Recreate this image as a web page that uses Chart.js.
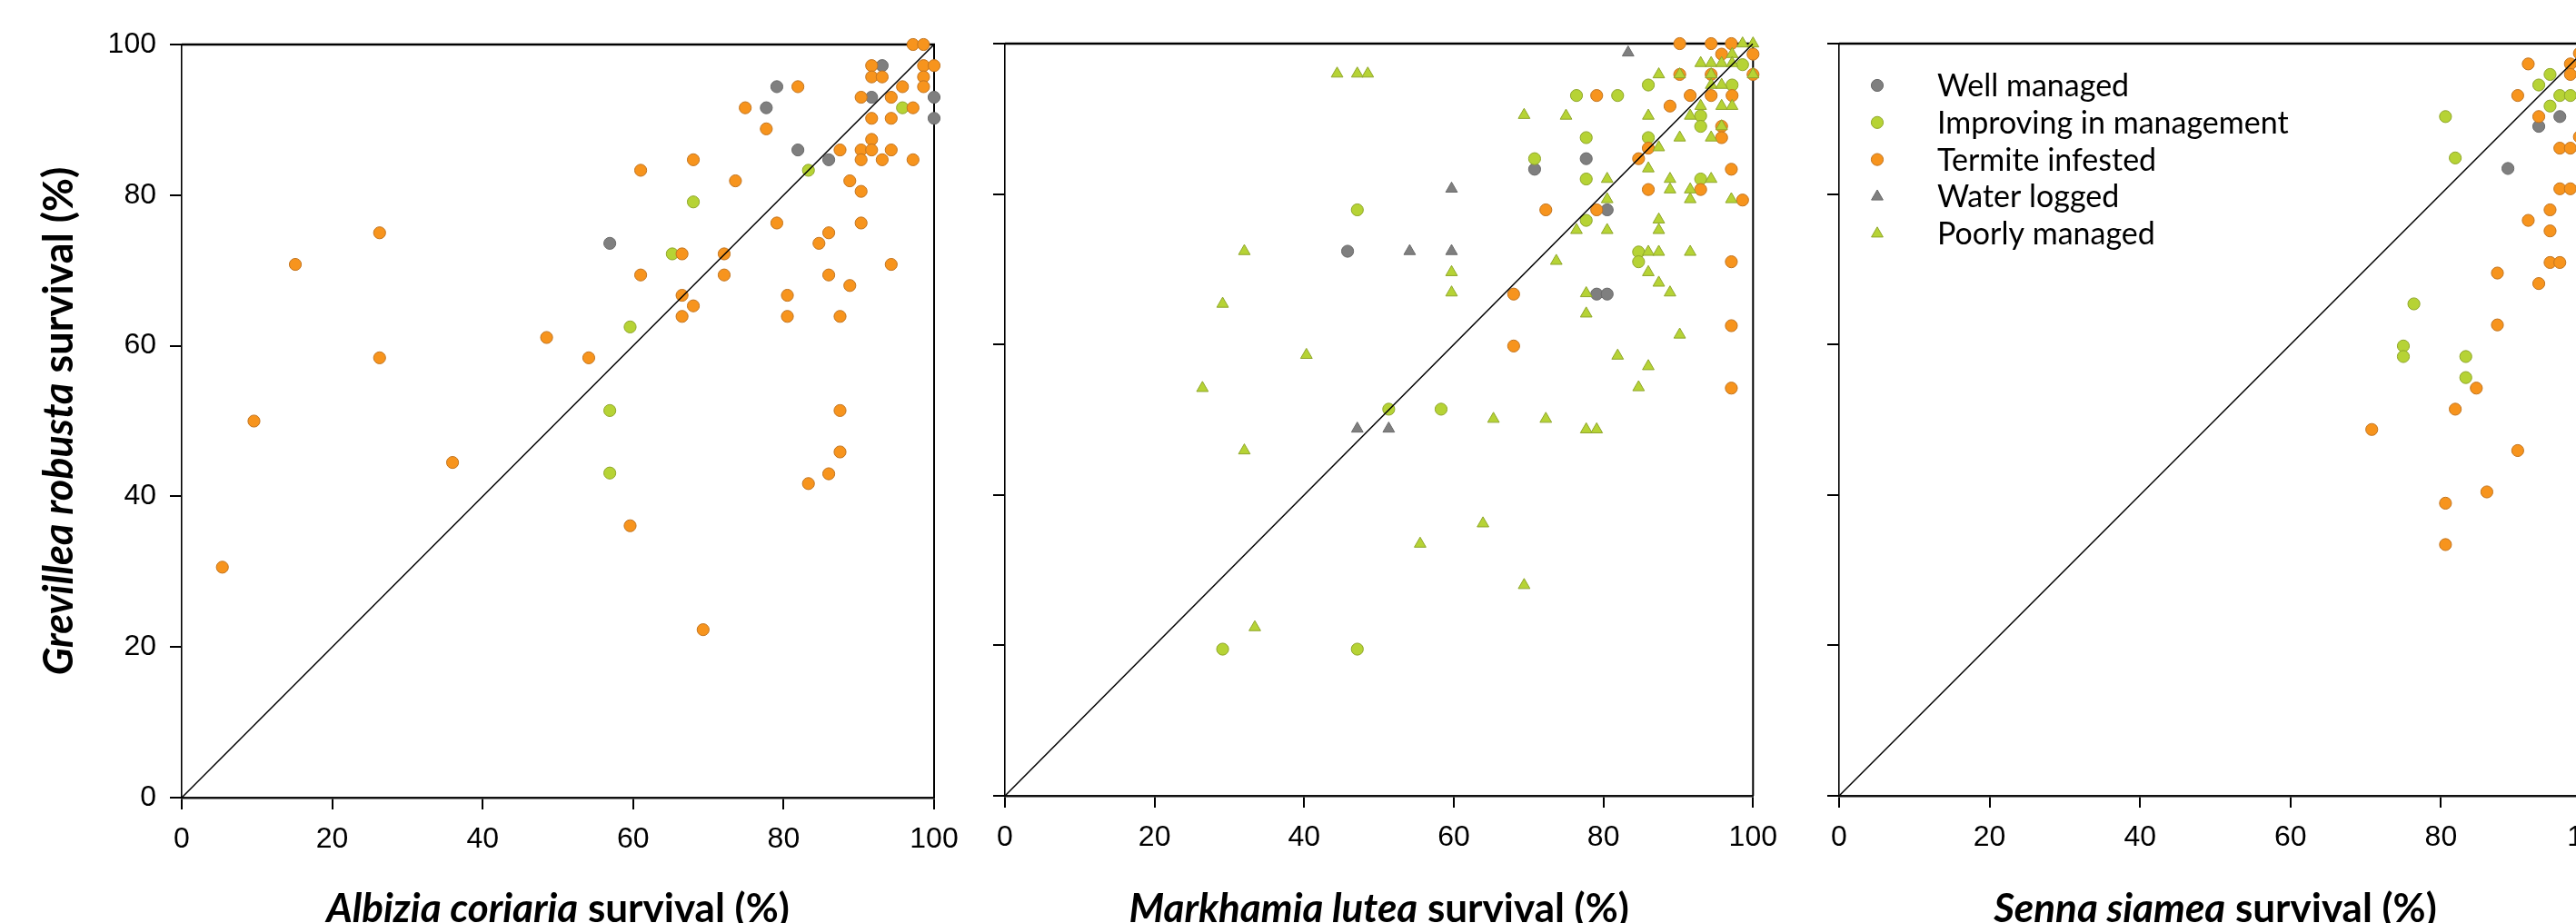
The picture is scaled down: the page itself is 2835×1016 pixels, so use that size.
<!DOCTYPE html>
<html>
<head>
<meta charset="utf-8">
<script src="https://cdn.jsdelivr.net/npm/chart.js@4.4.1/dist/chart.umd.min.js"></script>
<style>
  html, body { margin: 0; padding: 0; background: #fff; overflow: hidden; }
  body { width: 2835px; height: 1016px; position: relative; }
  .panel { position: absolute; top: 0; }
</style>
</head>
<body>
<div class="panel" style="left:0"><canvas id="albizia" width="1070" height="1016"></canvas></div>
<div class="panel" style="left:1070px"><canvas id="markhamia" width="900" height="1016"></canvas></div>
<div class="panel" style="left:1970px"><canvas id="senna" width="930" height="1016"></canvas></div>
<script>
const categories = ['Well managed', 'Improving in management', 'Termite infested', 'Water logged', 'Poorly managed'];
const axisTicks = [0, 20, 40, 60, 80, 100];
const yTitleSpecies = 'Grevillea robusta';
const xTitleSpecies = ['Albizia coriaria', 'Markhamia lutea', 'Senna siamea'];

// Albizia coriaria (x) vs Grevillea robusta (y), survival %
const albiziaWell = [[93.1, 97.2], [79.1, 94.4], [91.7, 93.0], [100, 93.0], [77.7, 91.6], [100, 90.2],
  [81.9, 86.0], [86.0, 84.7], [56.9, 73.6]];
const albiziaImproving = [[95.8, 91.6], [83.3, 83.3], [68.0, 79.1], [65.2, 72.2], [59.6, 62.5], [56.9, 51.4], [56.9, 43.1]];
const albiziaTermite = [[97.2, 100], [98.6, 100], [91.7, 97.2], [98.6, 97.2], [100, 97.2], [91.7, 95.7], [93.1, 95.7],
  [98.6, 95.7], [81.9, 94.4], [95.8, 94.4], [98.6, 94.4], [90.3, 93.0], [94.3, 93.0], [74.9, 91.6], [97.2, 91.6],
  [91.7, 90.2], [94.3, 90.2], [77.7, 88.8], [91.7, 87.4], [87.5, 86.0], [90.3, 86.0], [91.7, 86.0], [94.3, 86.0],
  [68.0, 84.7], [90.3, 84.7], [93.1, 84.7], [97.2, 84.7], [61.0, 83.3], [73.6, 81.9], [88.8, 81.9], [90.3, 80.5],
  [79.1, 76.3], [90.3, 76.3], [26.3, 75.0], [86.0, 75.0], [84.7, 73.6], [66.5, 72.2], [72.1, 72.2], [15.1, 70.8],
  [94.3, 70.8], [61.0, 69.4], [72.1, 69.4], [86.0, 69.4], [88.8, 68.0], [66.5, 66.7], [80.5, 66.7], [68.0, 65.3],
  [66.5, 63.9], [80.5, 63.9], [87.5, 63.9], [48.5, 61.1], [26.3, 58.4], [54.1, 58.4], [87.5, 51.4], [9.6, 50.0],
  [87.5, 45.9], [36.0, 44.5], [86.0, 43.0], [83.3, 41.7], [59.6, 36.1], [5.4, 30.6], [69.3, 22.3]];
const albiziaWaterlogged = [];
const albiziaPoor = [];

// Markhamia lutea (x) vs Grevillea robusta (y)
const markhamiaWell = [[45.8, 72.4], [70.8, 83.3], [77.7, 84.7], [80.5, 77.9], [79.1, 66.7], [80.5, 66.7]];
const markhamiaImproving = [[98.6, 97.2], [86.0, 94.5], [97.2, 94.5], [76.4, 93.1], [81.9, 93.1], [93.0, 90.4],
  [93.0, 89.0], [77.7, 87.5], [86.0, 87.5], [70.8, 84.7], [77.7, 82.0], [93.0, 82.0], [47.1, 77.9], [77.7, 76.5],
  [84.7, 72.3], [84.7, 71.0], [51.3, 51.4], [58.3, 51.4], [29.1, 19.5], [47.1, 19.5]];
const markhamiaTermite = [[90.2, 100], [94.4, 100], [97.1, 100], [95.8, 98.6], [100, 98.6], [90.2, 95.9], [94.4, 95.9],
  [100, 95.9], [79.1, 93.1], [91.6, 93.1], [94.4, 93.1], [97.2, 93.1], [88.9, 91.7], [95.8, 89.0], [95.8, 87.5],
  [86.0, 86.1], [84.7, 84.7], [97.1, 83.3], [86.0, 80.6], [93.0, 80.6], [98.6, 79.2], [72.3, 77.9], [79.1, 77.9],
  [97.1, 71.0], [68.0, 66.7], [97.1, 62.5], [68.0, 59.8], [97.1, 54.2]];
const markhamiaWaterlogged = [[83.3, 98.8], [59.7, 80.7], [54.1, 72.4], [59.7, 72.4], [47.1, 48.8], [51.3, 48.8]];
const markhamiaPoor = [[98.6, 100], [100, 100], [97.2, 98.6], [93.0, 97.4], [94.4, 97.4], [95.8, 97.4], [97.2, 97.4],
  [44.4, 96.0], [47.1, 96.0], [48.5, 96.0], [87.4, 95.9], [90.2, 95.9], [94.4, 95.9], [100, 95.9], [94.4, 94.5],
  [95.8, 94.5], [93.0, 91.7], [95.8, 91.7], [97.2, 91.7], [69.4, 90.5], [75.0, 90.4], [86.0, 90.4], [91.6, 90.4],
  [95.8, 89.0], [90.2, 87.5], [94.4, 87.5], [87.4, 86.2], [86.0, 83.4], [80.5, 82.0], [88.9, 82.0], [94.4, 82.0],
  [88.9, 80.6], [91.6, 80.6], [80.5, 79.3], [91.6, 79.3], [97.1, 79.3], [87.4, 76.6], [76.4, 75.2], [80.5, 75.2],
  [87.4, 75.2], [32.0, 72.4], [86.0, 72.3], [87.4, 72.3], [91.6, 72.3], [73.7, 71.1], [86.0, 69.6], [59.7, 69.6],
  [87.4, 68.2], [59.7, 66.9], [77.7, 66.8], [88.9, 66.9], [29.1, 65.4], [77.7, 64.1], [90.2, 61.3], [40.3, 58.6],
  [81.9, 58.5], [86.0, 57.1], [26.4, 54.2], [84.7, 54.3], [65.3, 50.1], [72.3, 50.1], [77.7, 48.7], [79.1, 48.7],
  [32.0, 45.9], [63.9, 36.2], [55.5, 33.5], [69.4, 28.0], [33.4, 22.4]];

// Senna siamea (x) vs Grevillea robusta (y)
const sennaWell = [[95.8, 90.3], [93.0, 89.0], [88.9, 83.4]];
const sennaImproving = [[94.5, 95.9], [93.0, 94.5], [95.8, 93.1], [97.2, 93.1], [94.5, 91.7], [80.6, 90.3], [81.9, 84.8],
  [76.4, 65.4], [75.0, 59.8], [75.0, 58.4], [83.3, 58.4], [83.3, 55.6]];
const sennaTermite = [[98.4, 98.7], [91.6, 97.3], [97.2, 97.3], [97.2, 95.9], [90.2, 93.1], [93.0, 90.3], [98.4, 87.6],
  [95.8, 86.1], [97.2, 86.1], [95.8, 80.7], [97.2, 80.7], [94.5, 77.9], [91.6, 76.5], [94.5, 75.1], [94.5, 70.9],
  [95.8, 70.9], [87.5, 69.5], [93.0, 68.1], [87.5, 62.6], [84.7, 54.2], [81.9, 51.4], [70.8, 48.7], [90.2, 45.9],
  [86.1, 40.4], [80.6, 38.9], [80.6, 33.4]];
const sennaWaterlogged = [];
const sennaPoor = [];

// styling, one entry per category
const markerStyles = [
  { shape: 'circle', radius: 6.6, fill: '#7f7f7f', stroke: '#6a6a6a' },
  { shape: 'circle', radius: 6.6, fill: '#b6d335', stroke: '#8fa62b' },
  { shape: 'circle', radius: 6.6, fill: '#f7941d', stroke: '#c27521' },
  { shape: 'triangle', radius: 7.4, fill: '#7f7f7f', stroke: '#6a6a6a' },
  { shape: 'triangle', radius: 7.4, fill: '#b6d335', stroke: '#8fa62b' }
];
const drawOrder = [5, 4, 3, 2, 1];

const tickFont = { family: '"Liberation Sans", Arial, sans-serif', size: 32 };
const boldItalic = size => `italic bold ${size}px Lato, "Open Sans", sans-serif`;
const bold = size => `bold ${size}px Lato, "Open Sans", sans-serif`;
const xTitleSize = 44;
const yTitleSize = 45;
const legendFont = '34px Lato, "Open Sans", sans-serif';

function buildDatasets(groups) {
  const sets = groups.map((pts, i) => ({
    label: categories[i],
    data: pts.map(([x, y]) => ({ x, y })),
    pointStyle: markerStyles[i].shape,
    pointRadius: markerStyles[i].radius,
    backgroundColor: markerStyles[i].fill,
    borderColor: markerStyles[i].stroke,
    borderWidth: 1,
    order: drawOrder[i],
    clip: false
  }));
  sets.push({
    label: '1:1',
    data: [{ x: 0, y: 0 }, { x: 100, y: 100 }],
    showLine: true,
    pointRadius: 0,
    borderColor: '#000',
    borderWidth: 1.5,
    order: 0
  });
  return sets;
}

function drawParts(ctx, parts, cx, baseline) {
  const widths = parts.map(p => { ctx.font = p.font; return ctx.measureText(p.text).width; });
  let x = cx - widths.reduce((a, b) => a + b, 0) / 2;
  ctx.textAlign = 'left';
  ctx.textBaseline = 'alphabetic';
  ctx.fillStyle = '#000';
  parts.forEach((p, i) => {
    ctx.font = p.font;
    ctx.fillText(p.text, x, baseline);
    x += widths[i];
  });
}

function drawMarker(ctx, st, x, y) {
  ctx.save();
  ctx.fillStyle = st.fill;
  ctx.strokeStyle = st.stroke;
  ctx.lineWidth = 1;
  ctx.beginPath();
  if (st.shape === 'triangle') {
    const r = st.radius;
    ctx.moveTo(x, y - r);
    ctx.lineTo(x + r * 0.866, y + r / 2);
    ctx.lineTo(x - r * 0.866, y + r / 2);
    ctx.closePath();
  } else {
    ctx.arc(x, y, st.radius, 0, Math.PI * 2);
  }
  ctx.fill();
  ctx.stroke();
  ctx.restore();
}

// top and right edges of the box
const framePlugin = {
  id: 'frame',
  beforeDatasetsDraw(chart) {
    const { ctx, chartArea: a } = chart;
    ctx.save();
    ctx.strokeStyle = '#000';
    ctx.lineWidth = 2.5;
    ctx.beginPath();
    ctx.moveTo(a.left, a.top);
    ctx.lineTo(a.right + 1, a.top);
    ctx.stroke();
    ctx.lineWidth = 2;
    ctx.beginPath();
    ctx.moveTo(a.right, a.top);
    ctx.lineTo(a.right, a.bottom);
    ctx.stroke();
    ctx.restore();
  }
};

function titlePlugin(species, withY) {
  return {
    id: 'titles',
    afterDraw(chart) {
      const { ctx, chartArea: a } = chart;
      ctx.save();
      drawParts(ctx, [{ text: species, font: boldItalic(xTitleSize) }, { text: ' survival (%)', font: bold(xTitleSize) }],
        (a.left + a.right) / 2, 1015);
      if (withY) {
        ctx.translate(80, (a.top + a.bottom) / 2);
        ctx.rotate(-Math.PI / 2);
        drawParts(ctx, [{ text: yTitleSpecies, font: boldItalic(yTitleSize) }, { text: ' survival (%)', font: bold(yTitleSize) }], 0, 0);
      }
      ctx.restore();
    }
  };
}

const legendPlugin = {
  id: 'cornerLegend',
  afterDraw(chart) {
    const { ctx, chartArea: a } = chart;
    ctx.save();
    categories.forEach((name, i) => {
      const y = a.top + 46 + i * 40.8;
      drawMarker(ctx, markerStyles[i], a.left + 42, y);
      ctx.font = legendFont;
      ctx.fillStyle = '#000';
      ctx.textAlign = 'left';
      ctx.textBaseline = 'alphabetic';
      ctx.fillText(name, a.left + 108, y + 12);
    });
    ctx.restore();
  }
};

function makeChart(id, groups, species, box) {
  const showY = box.yLabels;
  return new Chart(document.getElementById(id), {
    type: 'scatter',
    data: { datasets: buildDatasets(groups) },
    options: {
      responsive: false,
      animation: false,
      events: [],
      layout: { padding: { top: box.top, right: box.right, left: 0, bottom: 0 } },
      plugins: { legend: { display: false }, tooltip: { enabled: false } },
      scales: {
        x: {
          type: 'linear', min: 0, max: 100,
          afterBuildTicks: s => { s.ticks = axisTicks.map(v => ({ value: v })); },
          afterFit: s => { s.height = box.xHeight; },
          ticks: { font: tickFont, color: '#000', padding: 14, maxRotation: 0, autoSkip: false },
          grid: { drawOnChartArea: false, tickLength: 13, color: '#000', lineWidth: 2 },
          border: { color: '#111', width: 2.5 }
        },
        y: {
          type: 'linear', min: 0, max: 100,
          afterBuildTicks: s => { s.ticks = axisTicks.map(v => ({ value: v })); },
          afterFit: s => { s.width = box.yWidth; },
          ticks: { display: showY, font: tickFont, color: '#000', padding: 15 },
          grid: { drawOnChartArea: false, tickLength: 13, color: '#000', lineWidth: 2 },
          border: { color: '#000', width: 1.6 }
        }
      }
    },
    plugins: box.legend ? [framePlugin, titlePlugin(species, showY), legendPlugin]
                        : [framePlugin, titlePlugin(species, showY)]
  });
}

makeChart('albizia',
  [albiziaWell, albiziaImproving, albiziaTermite, albiziaWaterlogged, albiziaPoor],
  xTitleSpecies[0], { top: 49, right: 42, yWidth: 200, xHeight: 138, yLabels: true });
makeChart('markhamia',
  [markhamiaWell, markhamiaImproving, markhamiaTermite, markhamiaWaterlogged, markhamiaPoor],
  xTitleSpecies[1], { top: 48, right: 35, yWidth: 36, xHeight: 140, yLabels: false });
makeChart('senna',
  [sennaWell, sennaImproving, sennaTermite, sennaWaterlogged, sennaPoor],
  xTitleSpecies[2], { top: 48, right: 48, yWidth: 54, xHeight: 140, yLabels: false, legend: true });
</script>
</body>
</html>
